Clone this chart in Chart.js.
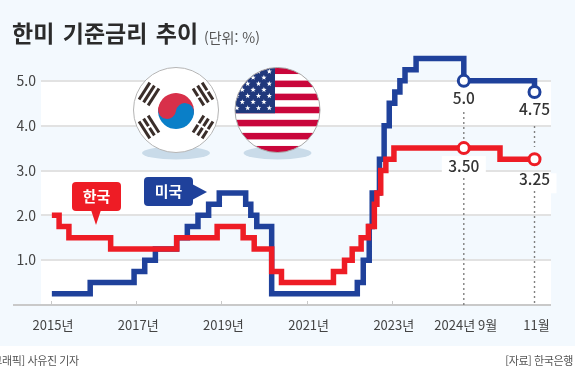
<!DOCTYPE html>
<html lang="ko">
<head>
<meta charset="utf-8">
<title>한미 기준금리 추이</title>
<script src="https://cdn.jsdelivr.net/npm/chart.js@4/dist/chart.umd.min.js"></script>
<style>
  html, body { margin: 0; padding: 0; background: #fff; }
  body { width: 581px; height: 381px; overflow: hidden; position: relative; font-family: "Noto Sans CJK KR", sans-serif; }
  #panel { position: absolute; left: 0; top: 0; width: 575px; height: 346px; background: #f3f9fe; }
  #chart { position: absolute; left: 0; top: 0; display: block; }
  .txt { position: absolute; white-space: nowrap; line-height: 1; }
  #title { left: 12px; top: 21px; font-size: 23px; font-weight: 700; color: #2b2b2b; word-spacing: 2px; }
  #unit { left: 204px; top: 30px; font-size: 14px; color: #555; }
  #byline { left: -11px; top: 355px; font-size: 11px; color: #555; letter-spacing: -0.4px; }
  #source { right: 8px; top: 355px; font-size: 11px; color: #555; letter-spacing: -0.4px; }
</style>
</head>
<body>
<div id="panel"></div>
<canvas id="chart" width="581" height="381"></canvas>
<div class="txt" id="title">한미 기준금리 추이</div>
<div class="txt" id="unit">(단위: %)</div>
<div class="txt" id="byline">[그래픽] 사유진 기자</div>
<div class="txt" id="source">[자료] 한국은행</div>
<script>
/* ================= DATA ================= */
// x = position on the time axis in years. After 2024 Sep the axis is stretched,
// so 2025.54 is 2024 Oct and 2026.35 is 2024 Nov.
const krDates = [2015.02, 2015.19, 2015.42, 2016.40, 2017.95, 2018.90, 2019.51, 2019.77, 2020.18, 2020.41, 2021.63, 2021.89, 2022.07, 2022.28, 2022.45, 2022.59, 2022.65, 2022.74, 2022.86, 2023.05, 2024.69, 2025.54, 2026.35];
const krRates = [2.0, 1.75, 1.5, 1.25, 1.5, 1.75, 1.5, 1.25, 0.75, 0.5, 0.75, 1.0, 1.25, 1.5, 1.75, 2.25, 2.5, 3.0, 3.25, 3.5, 3.5, 3.25, 3.25];

const usDates = [2015.02, 2015.92, 2016.95, 2017.20, 2017.45, 2017.95, 2018.20, 2018.45, 2018.70, 2018.95, 2019.57, 2019.69, 2019.83, 2020.18, 2022.19, 2022.33, 2022.47, 2022.54, 2022.71, 2022.82, 2022.94, 2023.07, 2023.19, 2023.31, 2023.57, 2024.69, 2026.35];
const usRates = [0.25, 0.5, 0.75, 1.0, 1.25, 1.5, 1.75, 2.0, 2.25, 2.5, 2.25, 2.0, 1.75, 0.25, 0.5, 1.0, 1.75, 2.5, 3.25, 4.0, 4.5, 4.75, 5.0, 5.25, 5.5, 5.0, 4.75];

const xTickValues = [2015, 2017, 2019, 2021, 2023, 2024.69, 2026.35];
const xTickLabels = ["2015년", "2017년", "2019년", "2021년", "2023년", "2024년 9월", "11월"];

const markerDates = [2024.69, 2026.35];
const krLabels = ["3.50", "3.25"];
const usLabels = ["5.0", "4.75"];

/* ================= COLORS ================= */
const RED = "#ee1c25";
const BLUE = "#1f419b";
const FONT = '"Noto Sans CJK KR", sans-serif';

function toPoints(dates, rates) {
  return dates.map((d, i) => ({ x: d, y: rates[i] }));
}

function markerRadius(ctx) {
  return ctx.raw && markerDates.includes(ctx.raw.x) ? 5.5 : 0;
}

/* ================= BACKGROUND BANDS ================= */
const bandPlugin = {
  id: "bands",
  beforeDraw(chart) {
    const { ctx, chartArea, scales } = chart;
    ctx.save();
    ctx.fillStyle = "#ffffff";
    [[5, 4], [3, 2], [1, 0]].forEach(([hi, lo]) => {
      const top = scales.y.getPixelForValue(hi);
      ctx.fillRect(chartArea.left, top, chartArea.width, scales.y.getPixelForValue(lo) - top);
    });
    ctx.restore();
  },
};

/* ================= FLAGS ================= */
function drawShadow(ctx, cx, cy) {
  ctx.fillStyle = "#c9dbe9";
  ctx.beginPath();
  ctx.ellipse(cx, cy, 34, 6.5, 0, 0, Math.PI * 2);
  ctx.fill();
}

function drawTrigram(ctx, cx, cy, angle, rows) {
  ctx.save();
  ctx.translate(cx, cy);
  ctx.rotate(angle);
  ctx.fillStyle = "#3a2e2a";
  rows.forEach((broken, i) => {
    const y = (i - 1) * 5.4 - 1.5;
    if (broken) {
      ctx.fillRect(-10, y, 9, 3);
      ctx.fillRect(1, y, 9, 3);
    } else {
      ctx.fillRect(-10, y, 20, 3);
    }
  });
  ctx.restore();
}

function drawKoreaFlag(ctx, cx, cy, r) {
  drawShadow(ctx, cx, cy + 43);
  ctx.fillStyle = "#fff";
  ctx.strokeStyle = "#b5b5b5";
  ctx.lineWidth = 1;
  ctx.beginPath();
  ctx.arc(cx, cy, r, 0, Math.PI * 2);
  ctx.fill();
  ctx.stroke();

  const t = 18;
  ctx.save();
  ctx.translate(cx, cy + 1);
  ctx.rotate(0.12);
  ctx.fillStyle = "#d8304a";
  ctx.beginPath();
  ctx.arc(0, 0, t, Math.PI, 0);
  ctx.fill();
  ctx.fillStyle = "#0a7fc8";
  ctx.beginPath();
  ctx.arc(0, 0, t, 0, Math.PI);
  ctx.fill();
  ctx.fillStyle = "#d8304a";
  ctx.beginPath();
  ctx.arc(-t / 2, 0, t / 2, 0, Math.PI * 2);
  ctx.fill();
  ctx.fillStyle = "#0a7fc8";
  ctx.beginPath();
  ctx.arc(t / 2, 0, t / 2, 0, Math.PI * 2);
  ctx.fill();
  ctx.restore();

  drawTrigram(ctx, cx - 27, cy - 16, -1.0, [0, 0, 0]);
  drawTrigram(ctx, cx + 27, cy - 16, 1.0, [1, 0, 1]);
  drawTrigram(ctx, cx - 27, cy + 17, 1.0, [0, 1, 0]);
  drawTrigram(ctx, cx + 27, cy + 17, -1.0, [1, 1, 1]);
}

function drawStar(ctx, x, y, r) {
  ctx.beginPath();
  for (let i = 0; i < 10; i++) {
    const a = -Math.PI / 2 + (i * Math.PI) / 5;
    const d = i % 2 ? r * 0.42 : r;
    ctx.lineTo(x + Math.cos(a) * d, y + Math.sin(a) * d);
  }
  ctx.closePath();
  ctx.fill();
}

function drawUsFlag(ctx, cx, cy, r) {
  drawShadow(ctx, cx, cy + 43);
  ctx.save();
  ctx.beginPath();
  ctx.arc(cx, cy, r, 0, Math.PI * 2);
  ctx.clip();
  ctx.fillStyle = "#fff";
  ctx.fillRect(cx - r, cy - r, r * 2, r * 2);
  const stripe = (r * 2) / 13;
  ctx.fillStyle = "#c9063b";
  for (let i = 0; i < 13; i += 2) {
    ctx.fillRect(cx - r, cy - r + i * stripe, r * 2, stripe);
  }
  ctx.fillStyle = "#20387c";
  ctx.fillRect(cx - r, cy - r, r - 2.5, stripe * 7);
  ctx.fillStyle = "#fff";
  for (let row = 0; row < 7; row++) {
    for (let col = 0; col < 4; col++) {
      drawStar(ctx, cx - 8.2 - (row % 2 ? 5.4 : 0) - col * 10.8, cy - 38.5 + row * 6.1, 2.8);
    }
  }
  ctx.restore();
  ctx.strokeStyle = "#a8a8a8";
  ctx.lineWidth = 1;
  ctx.beginPath();
  ctx.arc(cx, cy, r, 0, Math.PI * 2);
  ctx.stroke();
}

/* ================= ANNOTATIONS UNDER THE LINES ================= */
const underPlugin = {
  id: "under",
  beforeDatasetsDraw(chart) {
    const { ctx, chartArea, scales } = chart;
    const base = scales.y.getPixelForValue(0);
    ctx.save();

    // baseline runs left past the plot area
    ctx.strokeStyle = "#c9c9c9";
    ctx.lineWidth = 2;
    ctx.beginPath();
    ctx.moveTo(13, base);
    ctx.lineTo(chartArea.right, base);
    ctx.stroke();

    // small ticks on the year positions
    ctx.lineWidth = 1;
    xTickValues.slice(0, 5).forEach((v) => {
      const x = Math.round(scales.x.getPixelForValue(v)) + 0.5;
      ctx.beginPath();
      ctx.moveTo(x, base - 4);
      ctx.lineTo(x, base);
      ctx.stroke();
    });

    drawKoreaFlag(ctx, 176, 110, 42.5);
    drawUsFlag(ctx, 277.5, 110, 42.5);

    // white boxes behind the red labels cut the 3.0 gridline
    ctx.fillStyle = "#ffffff";
    markerDates.forEach((d, i) => {
      const x = scales.x.getPixelForValue(d);
      const y = scales.y.getPixelForValue(krRates[krRates.length - 1 - (i === 0 ? 2 : 0)]);
      ctx.fillRect(x - 22, y + (i === 0 ? 8 : 14), 44, 20);
    });

    // dotted guides, broken around the value labels
    ctx.strokeStyle = "#808080";
    ctx.lineWidth = 1.4;
    ctx.setLineDash([2, 3]);
    [[112, 140, 178, base], [126, 147, 191, base]].forEach((g, i) => {
      const x = scales.x.getPixelForValue(markerDates[i]);
      ctx.beginPath();
      ctx.moveTo(x, g[0]);
      ctx.lineTo(x, g[1]);
      ctx.moveTo(x, g[2]);
      ctx.lineTo(x, g[3]);
      ctx.stroke();
    });
    ctx.restore();
  },
};

/* ================= ANNOTATIONS OVER THE LINES ================= */
function roundBox(ctx, x, y, w, h, r) {
  ctx.beginPath();
  ctx.roundRect(x, y, w, h, r);
  ctx.fill();
}

const overPlugin = {
  id: "over",
  afterDatasetsDraw(chart) {
    const { ctx, scales } = chart;
    ctx.save();

    // callouts
    ctx.fillStyle = RED;
    roundBox(ctx, 72, 182, 49, 29, 4);
    ctx.beginPath();
    ctx.moveTo(91, 210);
    ctx.lineTo(101, 210);
    ctx.lineTo(96, 225);
    ctx.closePath();
    ctx.fill();

    ctx.fillStyle = BLUE;
    roundBox(ctx, 144, 177, 49, 29, 4);
    ctx.beginPath();
    ctx.moveTo(192, 184);
    ctx.lineTo(207, 192);
    ctx.lineTo(192, 200);
    ctx.closePath();
    ctx.fill();

    ctx.textAlign = "center";
    ctx.textBaseline = "middle";
    ctx.fillStyle = "#ffffff";
    ctx.font = "700 15px " + FONT;
    ctx.fillText("한국", 96.5, 196.5);
    ctx.fillText("미국", 168.5, 191.5);

    // value labels under the end markers
    ctx.fillStyle = "#333333";
    ctx.font = "500 15.5px " + FONT;
    const usY = [5.0, 4.75];
    const krY = [3.5, 3.25];
    markerDates.forEach((d, i) => {
      const x = scales.x.getPixelForValue(d);
      ctx.fillText(usLabels[i], x, scales.y.getPixelForValue(usY[i]) + 17);
      ctx.fillText(krLabels[i], x, scales.y.getPixelForValue(krY[i]) + (i === 0 ? 18 : 20));
    });
    ctx.restore();
  },
};

/* ================= CHART ================= */
new Chart(document.getElementById("chart"), {
  type: "line",
  data: {
    datasets: [
      {
        label: "한국",
        data: toPoints(krDates, krRates),
        borderColor: RED,
        order: 1,
      },
      {
        label: "미국",
        data: toPoints(usDates, usRates),
        borderColor: BLUE,
        order: 2,
      },
    ].map((d) => ({
      ...d,
      stepped: "before",
      borderWidth: 5.5,
      borderJoinStyle: "miter",
      borderCapStyle: "butt",
      pointRadius: markerRadius,
      pointBackgroundColor: "#ffffff",
      pointBorderColor: d.borderColor,
      pointBorderWidth: 3,
    })),
  },
  options: {
    responsive: false,
    animation: false,
    layout: { padding: { top: 36, right: 30, left: 0, bottom: 0 } },
    plugins: { legend: { display: false }, tooltip: { enabled: false } },
    scales: {
      x: {
        type: "linear",
        min: 2014.765,
        max: 2026.737,
        border: { display: false },
        grid: { display: false },
        afterBuildTicks(scale) {
          scale.ticks = xTickValues.map((v) => ({ value: v }));
        },
        afterFit(scale) {
          scale.height = 76;
        },
        ticks: {
          autoSkip: false,
          maxRotation: 0,
          padding: 4,
          labelOffset: 2,
          color: "#444444",
          font: { family: FONT, size: 13 },
          callback: (v, i) => xTickLabels[i],
        },
      },
      y: {
        min: 0,
        max: 6,
        border: { display: false },
        afterFit(scale) {
          scale.width = 41;
        },
        grid: {
          drawTicks: false,
          lineWidth: 2,
          color: (ctx) => (ctx.tick.value >= 1 && ctx.tick.value <= 5 ? "#e2e2e2" : "transparent"),
        },
        ticks: {
          stepSize: 1,
          padding: 5,
          color: "#444444",
          font: { family: FONT, size: 14 },
          callback: (v) => (v >= 1 && v <= 5 ? v.toFixed(1) : ""),
        },
      },
    },
  },
  plugins: [bandPlugin, underPlugin, overPlugin],
});
</script>
</body>
</html>
